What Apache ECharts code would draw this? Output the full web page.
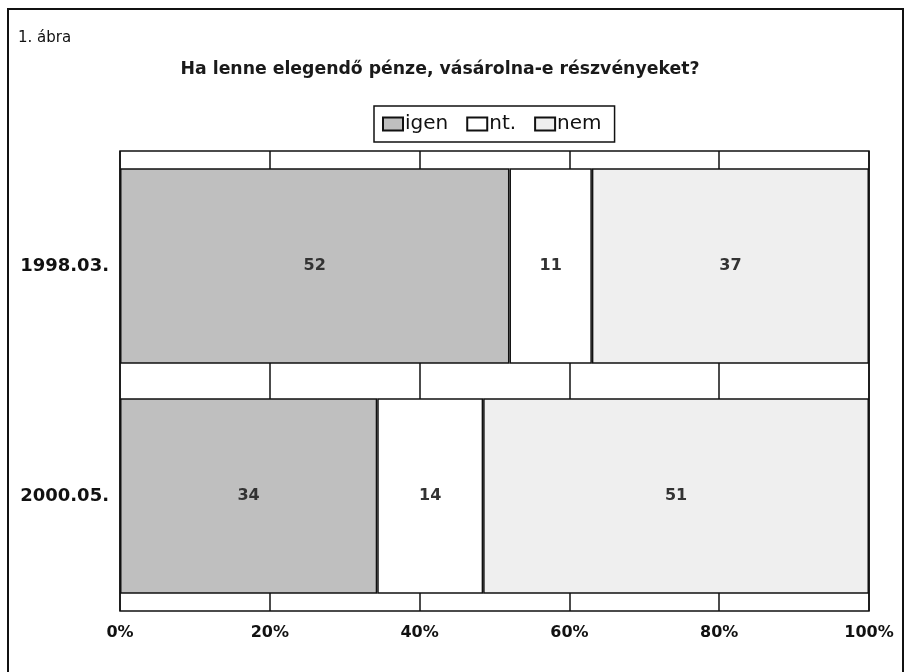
<!DOCTYPE html>
<html>
<head>
<meta charset="utf-8">
<script src="https://cdn.jsdelivr.net/npm/echarts@6/dist/echarts.min.js"></script>
<style>
  html, body { margin: 0; padding: 0; background: #fff; }
  #main { width: 909px; height: 672px; }
</style>
</head>
<body>
<div id="main"></div>
<script>
// data
const categories = ['1998.03.', '2000.05.'];
const seriesNames = ['igen', 'nt.', 'nem'];
const igen = [52, 34];
const nt = [11, 14];
const nem = [37, 51];
const xTicks = ['0%', '20%', '40%', '60%', '80%', '100%'];

const raw = [igen, nt, nem];
const colors = ['#bfbfbf', '#ffffff', '#efefef'];
// each row is drawn as 100% of its own total
const totals = categories.map((c, i) => igen[i] + nt[i] + nem[i]);

var myChart = echarts.init(document.getElementById('main'));

const FONT = 'DejaVu Sans';

var option = {
  backgroundColor: '#fff',
  animation: false,
  title: {
    text: 'Ha lenne elegendő pénze, vásárolna-e részvényeket?',
    left: 435,
    textAlign: 'center',
    top: 56,
    textStyle: { fontFamily: FONT, fontWeight: 'bold', fontSize: 17.3, color: '#1a1a1a' }
  },
  graphic: [
    {
      type: 'rect',
      shape: { x: 8, y: 9, width: 895, height: 680 },
      style: { fill: 'none', stroke: '#111', lineWidth: 2 }
    },
    {
      type: 'text',
      left: 18,
      top: 31,
      style: { text: '1. ábra', font: '15px "DejaVu Sans"', fill: '#111' }
    }
  ],
  legend: {
    data: seriesNames,
    left: 374,
    top: 106,
    itemWidth: 20,
    itemHeight: 13,
    itemGap: 18,
    padding: [8, 13, 8, 8],
    borderColor: '#111',
    borderWidth: 1.5,
    icon: 'rect',
    textStyle: { fontFamily: FONT, fontSize: 20, color: '#111', padding: [0, 0, 0, -3] }
  },
  grid: {
    left: 120,
    right: 40,
    top: 151,
    bottom: 61,
    show: true,
    borderColor: '#111',
    borderWidth: 1.5
  },
  xAxis: {
    type: 'value',
    min: 0,
    max: 100,
    interval: 20,
    axisLine: { show: false },
    axisTick: { show: false },
    splitLine: { show: true, lineStyle: { color: '#111', width: 1.5 } },
    axisLabel: {
      margin: 14,
      fontFamily: FONT,
      fontWeight: 'bold',
      fontSize: 16,
      color: '#111',
      formatter: v => xTicks[Math.round(v / 20)]
    }
  },
  yAxis: {
    type: 'category',
    data: categories,
    inverse: true,
    axisLine: { show: false },
    axisTick: { show: false },
    splitLine: { show: false },
    axisLabel: {
      margin: 11,
      fontFamily: FONT,
      fontWeight: 'bold',
      fontSize: 18,
      color: '#111'
    }
  },
  series: seriesNames.map((name, s) => ({
    name: name,
    type: 'bar',
    stack: 'total',
    barWidth: '85%',
    data: raw[s].map((v, i) => ({ value: v / totals[i] * 100, raw: v })),
    itemStyle: { color: colors[s], borderColor: '#111', borderWidth: 1.5 },
    label: {
      show: true,
      position: 'inside',
      fontFamily: FONT,
      fontWeight: 'bold',
      fontSize: 16,
      color: '#333',
      formatter: p => p.data.raw
    }
  }))
};

myChart.setOption(option);
</script>
</body>
</html>
